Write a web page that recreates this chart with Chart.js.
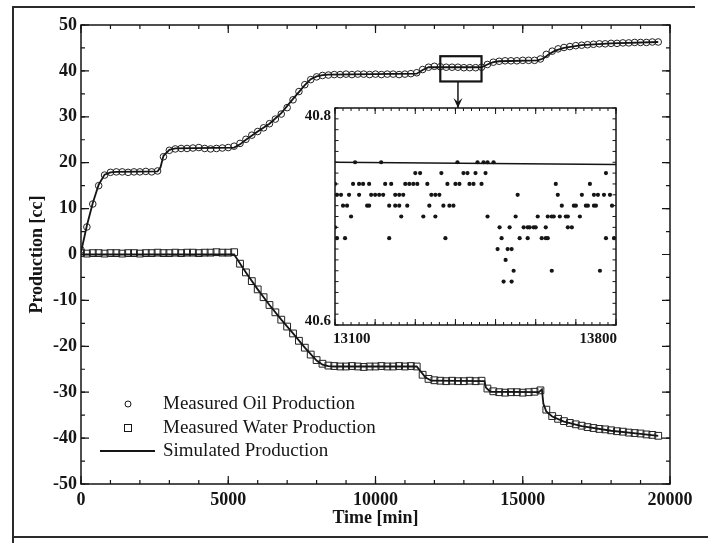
<!DOCTYPE html>
<html>
<head>
<meta charset="utf-8">
<script src="https://cdn.jsdelivr.net/npm/chart.js@4.4.1/dist/chart.umd.min.js"></script>
<style>
  html, body { margin: 0; padding: 0; background: #fff; }
  #wrap { position: relative; width: 708px; height: 543px; }
  #main { position: absolute; left: 0; top: 0; }
  #inset { position: absolute; left: 290px; top: 95px; }
</style>
</head>
<body>
<div id="wrap">
  <canvas id="main" width="708" height="543"></canvas>
  <canvas id="inset" width="345" height="260"></canvas>
</div>
<script>
  // measured data, one sample every 200 min
  const measTime = [
    0, 200, 400, 600, 800, 1000, 1200, 1400, 1600, 1800,
    2000, 2200, 2400, 2600, 2800, 3000, 3200, 3400, 3600, 3800,
    4000, 4200, 4400, 4600, 4800, 5000, 5200, 5400, 5600, 5800,
    6000, 6200, 6400, 6600, 6800, 7000, 7200, 7400, 7600, 7800,
    8000, 8200, 8400, 8600, 8800, 9000, 9200, 9400, 9600, 9800,
    10000, 10200, 10400, 10600, 10800, 11000, 11200, 11400, 11600, 11800,
    12000, 12200, 12400, 12600, 12800, 13000, 13200, 13400, 13600, 13800,
    14000, 14200, 14400, 14600, 14800, 15000, 15200, 15400, 15600, 15800,
    16000, 16200, 16400, 16600, 16800, 17000, 17200, 17400, 17600, 17800,
    18000, 18200, 18400, 18600, 18800, 19000, 19200, 19400, 19600
  ];
  const oilMeasured = [
    1.0, 6.0, 11.0, 15.0, 17.3, 17.9, 18.0, 18.0, 17.9, 18.0,
    18.0, 18.1, 18.0, 18.2, 21.3, 22.7, 23.0, 23.1, 23.1, 23.2,
    23.3, 23.1, 23.0, 23.1, 23.2, 23.3, 23.6, 24.2, 25.1, 26.0,
    26.8, 27.6, 28.5, 29.5, 30.6, 32.0, 33.7, 35.5, 37.0, 38.1,
    38.7, 39.0, 39.1, 39.2, 39.2, 39.3, 39.2, 39.3, 39.3, 39.2,
    39.3, 39.2, 39.3, 39.3, 39.2, 39.3, 39.4, 39.6, 40.3, 40.8,
    41.0, 40.9, 40.8, 40.8, 40.8, 40.7, 40.7, 40.7, 40.8, 41.4,
    41.9, 42.1, 42.2, 42.2, 42.2, 42.3, 42.3, 42.3, 42.6, 43.6,
    44.3, 44.8, 45.1, 45.3, 45.5, 45.6, 45.7, 45.8, 45.9, 45.9,
    46.0, 46.0, 46.1, 46.1, 46.2, 46.2, 46.2, 46.3, 46.3
  ];
  const waterMeasured = [
    0.3, 0.2, 0.3, 0.3, 0.2, 0.3, 0.3, 0.2, 0.3, 0.3,
    0.2, 0.3, 0.3, 0.4, 0.3, 0.3, 0.4, 0.3, 0.4, 0.4,
    0.3, 0.4, 0.4, 0.5, 0.4, 0.4, 0.5, -2.0, -3.9, -5.8,
    -7.6, -9.3, -11.0, -12.6, -14.2, -15.7, -17.2, -18.8, -20.3, -21.8,
    -23.0, -23.8, -24.2, -24.3, -24.4, -24.4, -24.3, -24.4, -24.5, -24.4,
    -24.4, -24.3, -24.4, -24.4, -24.3, -24.4, -24.3, -24.4, -26.2, -27.1,
    -27.4, -27.5, -27.6, -27.5, -27.6, -27.6, -27.5, -27.6, -27.5, -29.2,
    -29.8, -30.0, -30.1, -30.0, -30.0, -30.1, -30.0, -29.9, -29.6, -33.8,
    -35.2, -35.8, -36.3, -36.7, -37.0, -37.3, -37.6, -37.8, -38.0, -38.1,
    -38.3, -38.5, -38.6, -38.8, -38.9, -39.0, -39.2, -39.3, -39.5
  ];

  // simulated curves
  const simOilTime = [0, 200, 400, 600, 800, 1000, 1200, 2600, 2700, 2800, 3000, 3200, 5200, 5400, 5600, 6000, 6400, 6800, 7200, 7600, 7800, 8000, 8200, 8400, 11400, 11600, 11800, 12000, 13600, 13800, 14000, 14200, 15500, 15700, 15900, 16100, 16400, 17000, 18000, 19600];
  const simOil = [0.5, 6.3, 11.2, 15.2, 17.4, 17.9, 18.0, 18.1, 19.0, 21.5, 22.8, 23.1, 23.3, 24.0, 25.0, 26.8, 28.5, 30.8, 33.9, 36.9, 38.2, 38.8, 39.1, 39.2, 39.4, 40.2, 40.8, 40.8, 40.8, 41.4, 41.9, 42.1, 42.3, 42.7, 43.7, 44.4, 45.0, 45.6, 46.0, 46.3];
  const simWaterTime = [0, 5200, 5300, 5600, 6000, 6400, 6800, 7200, 7600, 8000, 8200, 8400, 8600, 11400, 11500, 11700, 11900, 13700, 13750, 13900, 15550, 15650, 15700, 15800, 16000, 16400, 17000, 18000, 19000, 19600];
  const simWater = [0, 0, -1.0, -3.9, -7.6, -11.0, -14.2, -17.2, -20.3, -23.1, -24.0, -24.3, -24.4, -24.4, -25.2, -26.8, -27.5, -27.6, -29.0, -29.9, -30.0, -29.4, -32.5, -34.2, -35.3, -36.4, -37.4, -38.4, -39.1, -39.5];

  const xTicks = [0, 5000, 10000, 15000, 20000];
  const yTicks = [-50, -40, -30, -20, -10, 0, 10, 20, 30, 40, 50];

  // zoomed window marked on the main plot
  const zoomBoxTime = [12200, 13600];
  const zoomBoxValue = [37.7, 43.2];
  const arrowTime = 12800;

  // inset: oil production readings between 13100 and 13800 min
  const insetLevels = [40.75, 40.74, 40.73, 40.72, 40.71, 40.70, 40.69, 40.68, 40.67, 40.66, 40.65, 40.64];
  const insetTimes = [
    [13150, 13215, 13405, 13455, 13470, 13480, 13495],
    [13300, 13312, 13365, 13420, 13430, 13450, 13475, 13775],
    [13100, 13145, 13160, 13170, 13185, 13225, 13240, 13275, 13285, 13295, 13305, 13330, 13380, 13400, 13410, 13435, 13445, 13465, 13650, 13735],
    [13105, 13115, 13135, 13160, 13190, 13200, 13210, 13220, 13250, 13260, 13270, 13340, 13350, 13360, 13555, 13655, 13715, 13745, 13755, 13770, 13785],
    [13120, 13130, 13180, 13185, 13235, 13250, 13260, 13280, 13335, 13370, 13385, 13395, 13665, 13695, 13700, 13725, 13730, 13745, 13750, 13790],
    [13140, 13265, 13320, 13350, 13480, 13550, 13605, 13630, 13640, 13645, 13660, 13675, 13680, 13710],
    [13100, 13510, 13535, 13570, 13580, 13585, 13595, 13600, 13625, 13680, 13690],
    [13105, 13125, 13235, 13375, 13515, 13560, 13580, 13615, 13625, 13630, 13775, 13795],
    [13505, 13530, 13540],
    [13525],
    [13545, 13640, 13760],
    [13520, 13540]
  ];
  const insetSimTime = [13100, 13800];
  const insetSim = [40.75, 40.748];
  const insetXTicks = [13100, 13800];
  const insetYTicks = [40.6, 40.8];

  const serif = '"Liberation Serif", "DejaVu Serif", serif';
  const ink = '#151515';
  Chart.defaults.font.family = serif;
  Chart.defaults.color = ink;

  function pairs(xs, ys) {
    return xs.map(function (x, i) { return { x: x, y: ys[i] }; });
  }

  function drawTicks(ctx, area, scale, horizontal, values, len) {
    values.forEach(function (v) {
      const p = scale.getPixelForValue(v);
      ctx.beginPath();
      if (horizontal) {
        ctx.moveTo(p, area.bottom); ctx.lineTo(p, area.bottom - len);
        ctx.moveTo(p, area.top); ctx.lineTo(p, area.top + len);
      } else {
        ctx.moveTo(area.left, p); ctx.lineTo(area.left + len, p);
        ctx.moveTo(area.right, p); ctx.lineTo(area.right - len, p);
      }
      ctx.stroke();
    });
  }

  function range(from, to, step) {
    const out = [];
    for (let v = from; v <= to + step * 1e-6; v += step) out.push(Math.round(v * 1000) / 1000);
    return out;
  }

  const mainDecor = {
    id: 'mainDecor',
    beforeDraw(chart) {
      const ctx = chart.ctx;
      ctx.save();
      ctx.fillStyle = '#fff';
      ctx.fillRect(0, 0, chart.width, chart.height);
      // page frame of the scanned figure
      ctx.strokeStyle = '#2a2a2a';
      ctx.lineWidth = 2;
      ctx.beginPath();
      ctx.moveTo(13, 543); ctx.lineTo(13, 7); ctx.lineTo(695, 7);
      ctx.moveTo(13, 537); ctx.lineTo(708, 537);
      ctx.stroke();
      ctx.restore();
    },
    afterDatasetsDraw(chart) {
      const ctx = chart.ctx;
      const a = chart.chartArea;
      const x = chart.scales.x;
      const y = chart.scales.y;
      ctx.save();
      ctx.strokeStyle = ink;
      ctx.lineWidth = 1.5;
      ctx.strokeRect(a.left, a.top, a.right - a.left, a.bottom - a.top);
      ctx.lineWidth = 1.2;
      drawTicks(ctx, a, x, true, range(0, 20000, 1000), 4);
      drawTicks(ctx, a, x, true, range(0, 20000, 5000), 8);
      drawTicks(ctx, a, y, false, range(-50, 50, 5), 4);
      drawTicks(ctx, a, y, false, range(-50, 50, 10), 8);

      // zoom box and arrow
      const bx0 = x.getPixelForValue(zoomBoxTime[0]);
      const bx1 = x.getPixelForValue(zoomBoxTime[1]);
      const by0 = y.getPixelForValue(zoomBoxValue[1]);
      const by1 = y.getPixelForValue(zoomBoxValue[0]);
      ctx.lineWidth = 2.2;
      ctx.strokeRect(bx0, by0, bx1 - bx0, by1 - by0);
      const ax = x.getPixelForValue(arrowTime);
      const insetTop = 108;
      ctx.lineWidth = 1.5;
      ctx.beginPath();
      ctx.moveTo(ax, by1); ctx.lineTo(ax, insetTop);
      ctx.stroke();
      ctx.beginPath();
      ctx.moveTo(ax - 4.5, insetTop - 10); ctx.lineTo(ax, insetTop); ctx.lineTo(ax + 4.5, insetTop - 10);
      ctx.lineTo(ax, insetTop - 6); ctx.closePath();
      ctx.fillStyle = ink;
      ctx.fill();

      // legend
      const ds = chart.data.datasets;
      const mx = a.left + 47;
      const tx = a.left + 82;
      const rows = [a.bottom - 80, a.bottom - 56, a.bottom - 33];
      ctx.lineWidth = 1;
      ctx.beginPath();
      ctx.arc(mx, rows[0], 3, 0, Math.PI * 2);
      ctx.stroke();
      ctx.strokeRect(mx - 3.5, rows[1] - 3.5, 7, 7);
      ctx.lineWidth = 1.8;
      ctx.beginPath();
      ctx.moveTo(a.left + 19, rows[2]); ctx.lineTo(a.left + 74, rows[2]);
      ctx.stroke();
      ctx.font = '19px ' + serif;
      ctx.textAlign = 'left';
      ctx.textBaseline = 'middle';
      ctx.fillText(ds[2].label, tx, rows[0]);
      ctx.fillText(ds[3].label, tx, rows[1]);
      ctx.fillText(ds[0].label, tx, rows[2]);
      ctx.restore();
    }
  };

  const tickFont = { size: 18, weight: 'bold' };

  new Chart(document.getElementById('main'), {
    type: 'scatter',
    data: {
      datasets: [
        { label: 'Simulated Production', data: pairs(simOilTime, simOil), showLine: true, borderColor: ink, borderWidth: 1.8, pointRadius: 0, tension: 0, order: 0 },
        { label: 'Simulated Production', data: pairs(simWaterTime, simWater), showLine: true, borderColor: ink, borderWidth: 1.8, pointRadius: 0, tension: 0, order: 0 },
        { label: 'Measured Oil Production', data: pairs(measTime, oilMeasured), pointStyle: 'circle', pointRadius: 3.3, borderWidth: 1, borderColor: '#222', backgroundColor: 'rgba(0,0,0,0)', order: 1 },
        { label: 'Measured Water Production', data: pairs(measTime, waterMeasured), pointStyle: 'rect', pointRadius: 4.8, borderWidth: 1, borderColor: '#222', backgroundColor: 'rgba(0,0,0,0)', order: 1 }
      ]
    },
    options: {
      responsive: false,
      animation: false,
      devicePixelRatio: 1,
      layout: { padding: { left: 23, top: 25, right: 38, bottom: 10 } },
      plugins: { legend: { display: false }, tooltip: { enabled: false } },
      scales: {
        x: {
          type: 'linear', min: 0, max: 20000,
          afterBuildTicks: function (s) { s.ticks = xTicks.map(function (v) { return { value: v }; }); },
          afterFit: function (s) { s.height = 49; },
          grid: { display: false, drawTicks: false },
          border: { display: false },
          ticks: { padding: 6, font: tickFont, color: ink, maxRotation: 0, autoSkip: false, callback: function (v) { return String(v); } },
          title: { display: true, text: 'Time [min]', color: ink, font: { size: 18, weight: 'bold' }, padding: { top: 4, bottom: 4 } }
        },
        y: {
          type: 'linear', min: -50, max: 50,
          afterBuildTicks: function (s) { s.ticks = yTicks.map(function (v) { return { value: v }; }); },
          afterFit: function (s) { s.width = 58; },
          grid: { display: false, drawTicks: false },
          border: { display: false },
          ticks: { padding: 4, font: tickFont, color: ink, autoSkip: false, callback: function (v) { return String(v); } },
          title: { display: true, text: 'Production [cc]', color: ink, font: { size: 18, weight: 'bold' }, padding: { top: 4, bottom: 4 } }
        }
      }
    },
    plugins: [mainDecor]
  });

  const insetDecor = {
    id: 'insetDecor',
    beforeDatasetsDraw(chart) {
      const a = chart.chartArea;
      chart.ctx.save();
      chart.ctx.fillStyle = '#fff';
      chart.ctx.fillRect(a.left, a.top, a.right - a.left, a.bottom - a.top);
      chart.ctx.restore();
    },
    afterDatasetsDraw(chart) {
      const ctx = chart.ctx;
      const a = chart.chartArea;
      const x = chart.scales.x;
      const y = chart.scales.y;
      ctx.save();
      ctx.strokeStyle = ink;
      ctx.lineWidth = 1.5;
      ctx.strokeRect(a.left, a.top, a.right - a.left, a.bottom - a.top);
      ctx.lineWidth = 1;
      drawTicks(ctx, a, x, true, range(13100, 13800, 20), 3);
      drawTicks(ctx, a, x, true, range(13100, 13800, 100), 6);
      drawTicks(ctx, a, y, false, range(40.6, 40.8, 0.01), 3.5);
      ctx.fillStyle = ink;
      ctx.font = 'bold 15px ' + serif;
      ctx.textAlign = 'right';
      ctx.textBaseline = 'top';
      ctx.fillText(insetYTicks[1].toFixed(1), a.left - 4, y.getPixelForValue(insetYTicks[1]) + 1);
      ctx.textBaseline = 'alphabetic';
      ctx.fillText(insetYTicks[0].toFixed(1), a.left - 4, y.getPixelForValue(insetYTicks[0]));
      ctx.textBaseline = 'top';
      ctx.textAlign = 'left';
      ctx.fillText(String(insetXTicks[0]), x.getPixelForValue(insetXTicks[0]) - 2, a.bottom + 7);
      ctx.textAlign = 'right';
      ctx.fillText(String(insetXTicks[1]), x.getPixelForValue(insetXTicks[1]) + 1, a.bottom + 7);
      ctx.restore();
    }
  };

  const insetPoints = [];
  insetLevels.forEach(function (lv, i) {
    insetTimes[i].forEach(function (t) { insetPoints.push({ x: t, y: lv }); });
  });

  new Chart(document.getElementById('inset'), {
    type: 'scatter',
    data: {
      datasets: [
        { label: 'Simulated Production', data: pairs(insetSimTime, insetSim), showLine: true, borderColor: ink, borderWidth: 1.5, pointRadius: 0, order: 0 },
        { label: 'Measured Oil Production', data: insetPoints, pointRadius: 2.1, borderWidth: 0, backgroundColor: ink, order: 1 }
      ]
    },
    options: {
      responsive: false,
      animation: false,
      devicePixelRatio: 1,
      layout: { padding: { left: 0, top: 13, right: 19, bottom: 0 } },
      plugins: { legend: { display: false }, tooltip: { enabled: false } },
      scales: {
        x: {
          type: 'linear', min: 13100, max: 13800,
          afterFit: function (s) { s.height = 30; },
          grid: { display: false, drawTicks: false },
          border: { display: false },
          ticks: { display: false }
        },
        y: {
          type: 'linear', min: 40.6, max: 40.8,
          afterFit: function (s) { s.width = 45; },
          grid: { display: false, drawTicks: false },
          border: { display: false },
          ticks: { display: false }
        }
      }
    },
    plugins: [insetDecor]
  });
</script>
</body>
</html>
